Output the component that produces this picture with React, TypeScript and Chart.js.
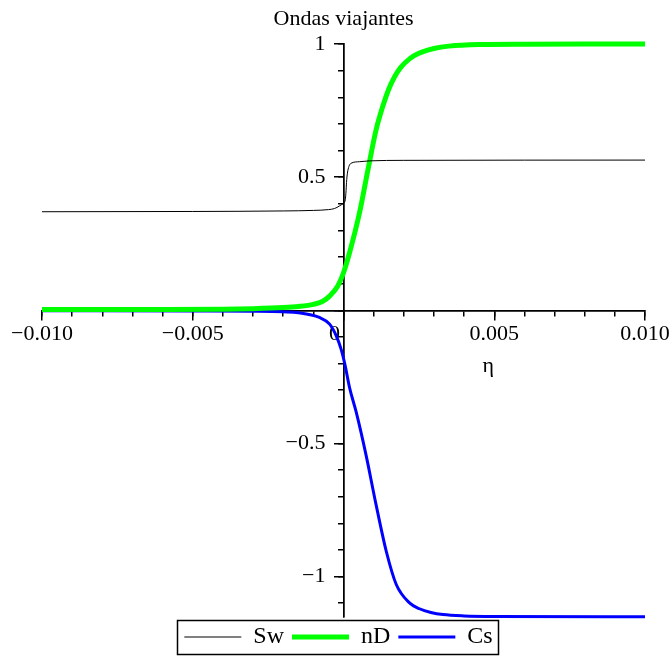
import React, { useEffect, useRef } from 'react';
import { Chart, registerables } from 'chart.js';

Chart.register(...registerables);

const FONT = '"Liberation Serif", "Times New Roman", serif';

const titleText = 'Ondas viajantes';
const xAxisLabel = 'η';
const etaLabelValue = 0.0048;

const seriesNames = ['Sw', 'nD', 'Cs'];
const seriesColors = ['#000000', '#00ff00', '#0000ff'];
const seriesWidths = [1, 5, 3];

const swEta = [-0.01, -0.005, -0.002, -0.001, -0.0005, -0.0003, -0.00013, 0, 0.00005, 0.00008, 0.0001, 0.00013, 0.00018, 0.00025, 0.00053, 0.00086, 0.002, 0.01];
const swValues = [0.37, 0.371, 0.373, 0.375, 0.378, 0.382, 0.392, 0.402, 0.41, 0.44, 0.48, 0.515, 0.54, 0.552, 0.558, 0.561, 0.563, 0.564];

const ndEta = [-0.01, -0.006, -0.004, -0.003, -0.002, -0.0015, -0.001, -0.0007, -0.00046, -0.00019, 0, 0.0002, 0.00053, 0.00081, 0.00108, 0.0013, 0.0015, 0.0017, 0.0019, 0.0022, 0.0025, 0.003, 0.0035, 0.0045, 0.006, 0.01];
const ndValues = [0.003, 0.003, 0.004, 0.006, 0.01, 0.014, 0.022, 0.033, 0.053, 0.091, 0.141, 0.216, 0.365, 0.527, 0.677, 0.765, 0.83, 0.878, 0.912, 0.945, 0.965, 0.983, 0.992, 0.998, 0.9995, 1.0];

const csEta = [-0.01, -0.005, -0.003, -0.002, -0.0015, -0.0008, -0.00046, -0.00024, -0.00008, 0.00005, 0.0002, 0.00042, 0.00075, 0.00108, 0.00142, 0.00175, 0.00219, 0.00252, 0.0029, 0.0033, 0.004, 0.005, 0.01];
const csValues = [-0.002, -0.003, -0.004, -0.006, -0.009, -0.027, -0.052, -0.096, -0.146, -0.205, -0.29, -0.382, -0.545, -0.73, -0.906, -1.03, -1.099, -1.121, -1.135, -1.143, -1.148, -1.15, -1.151];

const xMin = -0.01;
const xMax = 0.01;
const yMin = -1.152;
const yMax = 1;

const xMajorTicks = [-0.01, -0.005, 0, 0.005, 0.01];
const xTickLabels = ['\u22120.010', '\u22120.005', '0', '0.005', '0.010'];
const xMinorTicks = [-0.01, -0.009, -0.008, -0.007, -0.006, -0.005, -0.004, -0.003, -0.002, -0.001, 0, 0.001, 0.002, 0.003, 0.004, 0.005, 0.006, 0.007, 0.008, 0.009, 0.01];
const yMajorTicks = [-1, -0.5, 0, 0.5, 1];
const yTickLabels = ['\u22121', '\u22120.5', '', '0.5', '1'];
const yMinorTicks = [-1.1, -1.0, -0.9, -0.8, -0.7, -0.6, -0.5, -0.4, -0.3, -0.2, -0.1, 0, 0.1, 0.2, 0.3, 0.4, 0.5, 0.6, 0.7, 0.8, 0.9, 1.0];

// Center-positioned axes in Chart.js place y labels flush against the axis;
// nudge them left past the tick marks, and the x "0" label left of the y axis.
const labelNudge = {
  id: 'labelNudge',
  afterLayout(chart: any) {
    const lg = chart.legend;
    if (lg) {
      lg.left -= 5;
      lg.right -= 5;
    }
  },
  beforeDraw(chart: any) {
    const area = chart.chartArea;
    const ys = chart.scales.y;
    if (ys && ys.getLabelItems) {
      ys.getLabelItems(area).forEach((it: any) => {
        if (!it.__nudged && it.options && it.options.translation) {
          it.options.translation[0] -= 18;
          it.__nudged = true;
        }
      });
    }
    const xs = chart.scales.x;
    if (xs && xs.getLabelItems) {
      xs.getLabelItems(area).forEach((it: any) => {
        if (!it.__nudged && it.label === '0' && it.options && it.options.translation) {
          it.options.translation[0] -= 9;
          it.__nudged = true;
        }
      });
    }
  },
};

const legendBorder = {
  id: 'legendBorder',
  afterDraw(chart: any) {
    const lg = chart.legend;
    if (!lg || !lg.legendHitBoxes || !lg.legendHitBoxes.length) return;
    const hb = lg.legendHitBoxes;
    const left = Math.min(...hb.map((h: any) => h.left)) - 7;
    const right = Math.max(...hb.map((h: any) => h.left + h.width)) + 6;
    const top = hb[0].top - 5;
    const bottom = hb[0].top + hb[0].height + 5;
    const ctx = chart.ctx;
    ctx.save();
    ctx.strokeStyle = '#000';
    ctx.lineWidth = 1.5;
    ctx.strokeRect(Math.round(left) + 0.5, Math.round(top) + 0.5, Math.round(right - left), Math.round(bottom - top));
    ctx.restore();
  },
};

const etaLabel = {
  id: 'etaLabel',
  afterDraw(chart: any) {
    const { ctx, scales } = chart;
    ctx.save();
    ctx.font = `22px ${FONT}`;
    ctx.fillStyle = '#000';
    ctx.textAlign = 'center';
    ctx.textBaseline = 'alphabetic';
    ctx.fillText(xAxisLabel, scales.x.getPixelForValue(etaLabelValue), scales.y.getPixelForValue(0) + 62);
    ctx.restore();
  },
};

function toPoints(xs: number[], ys: number[]) {
  return xs.map((x, i) => ({ x, y: ys[i] }));
}

export default function App() {
  const ref = useRef<HTMLCanvasElement>(null);

  useEffect(() => {
    if (!ref.current) return;
    const seriesData = [toPoints(swEta, swValues), toPoints(ndEta, ndValues), toPoints(csEta, csValues)];
    const axisLine = { display: true, color: '#000', width: 1.5 };
    const chart = new Chart(ref.current, {
      type: 'line',
      data: {
        datasets: seriesNames.map((name, i) => ({
          label: name,
          data: seriesData[i],
          borderColor: seriesColors[i],
          backgroundColor: seriesColors[i],
          borderWidth: seriesWidths[i],
          pointRadius: 0,
          pointHoverRadius: 0,
          cubicInterpolationMode: 'monotone',
          fill: false,
          clip: false,
          xAxisID: 'x',
          yAxisID: 'y',
        })),
      },
      options: {
        responsive: false,
        animation: false,
        events: [],
        layout: { padding: { left: 42, right: 27, top: 0, bottom: -2 } },
        scales: {
          xMinor: {
            type: 'linear',
            min: xMin,
            max: xMax,
            position: { y: 0 },
            afterBuildTicks: (axis: any) => {
              axis.ticks = xMinorTicks.map((v) => ({ value: v }));
            },
            grid: { display: true, drawOnChartArea: false, drawTicks: true, tickLength: 5, color: '#000', lineWidth: 1.5 },
            border: axisLine,
            ticks: { display: false },
          },
          yMinor: {
            type: 'linear',
            min: yMin,
            max: yMax,
            position: { x: 0 },
            afterBuildTicks: (axis: any) => {
              axis.ticks = yMinorTicks.map((v) => ({ value: v }));
            },
            grid: { display: true, drawOnChartArea: false, drawTicks: true, tickLength: 5, color: '#000', lineWidth: 1.5 },
            border: axisLine,
            ticks: { display: false },
          },
          x: {
            type: 'linear',
            min: xMin,
            max: xMax,
            position: { y: 0 },
            afterBuildTicks: (axis: any) => {
              axis.ticks = xMajorTicks.map((v) => ({ value: v }));
            },
            grid: { display: true, drawOnChartArea: false, drawTicks: true, tickLength: 9, color: '#000', lineWidth: 1.5 },
            border: axisLine,
            ticks: {
              color: '#000',
              font: { family: FONT, size: 22 },
              padding: 2,
              maxRotation: 0,
              minRotation: 0,
              autoSkip: false,
              callback: (_v: any, i: number) => xTickLabels[i],
            },
          },
          y: {
            type: 'linear',
            min: yMin,
            max: yMax,
            position: { x: 0 },
            afterBuildTicks: (axis: any) => {
              axis.ticks = yMajorTicks.map((v) => ({ value: v }));
            },
            grid: { display: true, drawOnChartArea: false, drawTicks: true, tickLength: 9, color: '#000', lineWidth: 1.5 },
            border: axisLine,
            ticks: {
              color: '#000',
              font: { family: FONT, size: 22 },
              padding: 8,
              autoSkip: false,
              callback: (_v: any, i: number) => yTickLabels[i],
            },
          },
        },
        plugins: {
          title: {
            display: true,
            text: titleText,
            color: '#000',
            font: { family: FONT, size: 22, weight: 'normal' },
            padding: { top: 6, bottom: 11.6 },
          },
          legend: {
            display: true,
            position: 'bottom',
            labels: {
              usePointStyle: true,
              pointStyle: 'line',
              pointStyleWidth: 57,
              color: '#000',
              font: { family: FONT, size: 24 },
              padding: 8,
            },
          },
          tooltip: { enabled: false },
        },
      } as any,
      plugins: [labelNudge, legendBorder, etaLabel],
    });
    return () => chart.destroy();
  }, []);

  return (
    <canvas
      ref={ref}
      width={672}
      height={657}
      style={{ position: 'absolute', left: 0, top: 0, background: '#fff' }}
    />
  );
}
